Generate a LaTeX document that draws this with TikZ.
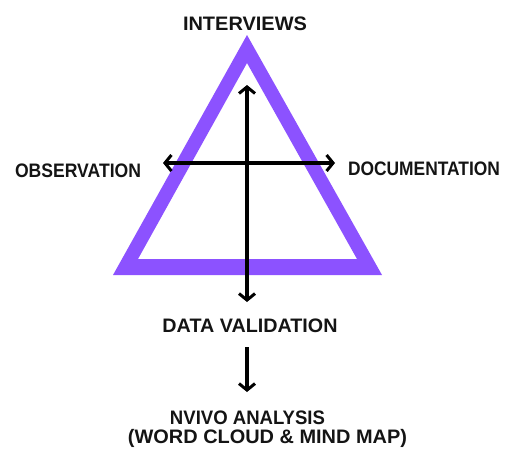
\documentclass[tikz,border=0pt]{standalone}
\usepackage{fontspec}
\setmainfont{Liberation Sans}
\usetikzlibrary{arrows.meta}
\definecolor{violet}{HTML}{8C52FF}
% Label text stretched horizontally to a given width, height unchanged
\newcommand{\wlabel}[2]{\resizebox{#1}{\height}{#2}}
\begin{document}
\begin{tikzpicture}[x=1pt,y=-1pt,
  lbl/.style={inner sep=0pt,anchor=base,font=\fontsize{19.5}{21}\selectfont\bfseries,text=black!92},
  arr/.style={line width=3.2pt,-{Straight Barb[length=6.5pt,width=16pt,line width=3pt]}},
  darr/.style={line width=3.2pt,{Straight Barb[length=6.5pt,width=16pt,line width=3pt]}-{Straight Barb[length=6.5pt,width=16pt,line width=3pt]}}]
\useasboundingbox (0,0) rectangle (505,448);

% purple triangle frame
\fill[violet,even odd rule]
  (247,35) -- (113,275) -- (382,275) -- cycle
  (247,63) -- (138,259) -- (357,259) -- cycle;

% labels
\node[lbl] (int) at (245,30.5) {\wlabel{124pt}{INTERVIEWS}};
\node[lbl] (obs) at (78,177) {\wlabel{126pt}{OBSERVATION}};
\node[lbl] (doc) at (424,175.5) {\wlabel{152pt}{DOCUMENTATION}};
\node[lbl] (val) at (250,332.5) {\wlabel{175pt}{DATA VALIDATION}};
\node[lbl] (nv1) at (247.5,424.5) {\wlabel{155pt}{NVIVO ANALYSIS}};
\node[lbl] (nv2) at (267.5,443) {\wlabel{279pt}{(WORD CLOUD \& MIND MAP)}};

% arrow end points
\coordinate (vt) at (247,85);
\coordinate (vb) at (247,302);
\coordinate (hl) at (163,163);
\coordinate (hr) at (335,163);
\coordinate (dt) at (247,347);
\coordinate (db) at (247,392);

\draw[darr] (vt) -- (vb);
\draw[darr] (hl) -- (hr);
\draw[arr] (dt) -- (db);
\end{tikzpicture}
\end{document}
